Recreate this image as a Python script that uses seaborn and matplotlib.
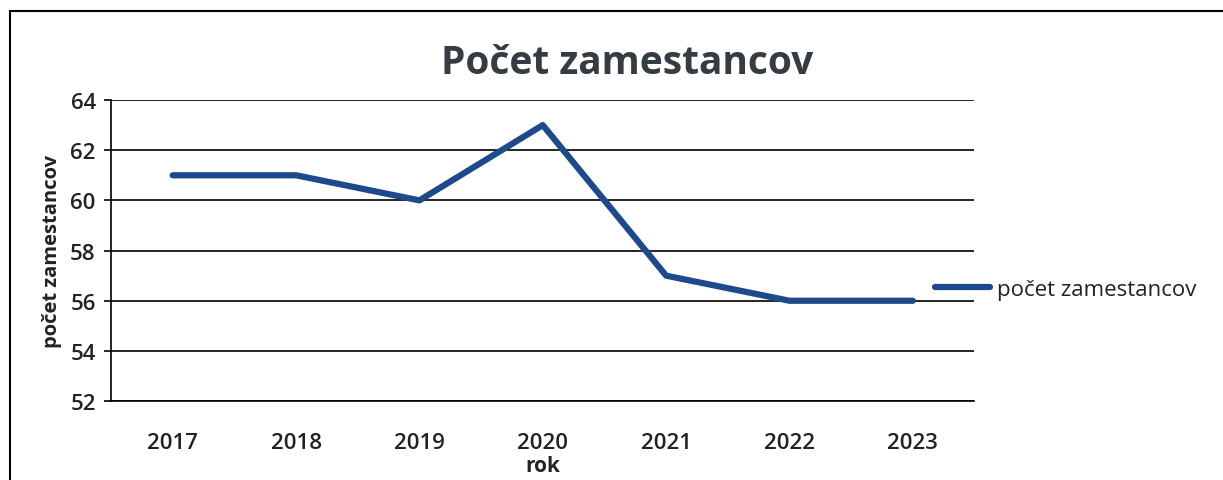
import numpy as np
import pandas as pd
import matplotlib
matplotlib.use("Agg")
import matplotlib.pyplot as plt
import seaborn as sns
from matplotlib.patches import Rectangle

roky = ["2017", "2018", "2019", "2020", "2021", "2022", "2023"]
pocet = [61, 61, 60, 63, 57, 56, 56]
y_ticks = [52, 54, 56, 58, 60, 62, 64]

df = pd.DataFrame({"rok": roky, "počet zamestancov": pocet})

sns.set_style("white")
plt.rcParams['font.family'] = ['Open Sans', 'DejaVu Sans']

fig = plt.figure(figsize=(12.23, 4.81), dpi=100)
ax = fig.add_axes([0.0908, 0.164, 0.706, 0.626])

line_color = "#1d4a8c"
sns.lineplot(data=df, x="rok", y="počet zamestancov", ax=ax, color=line_color,
             linewidth=4.5, sort=False, label="počet zamestancov")

ax.set_xlim(-0.5, len(roky) - 0.5)
ax.set_ylim(52, 64)
ax.set_yticks(y_ticks)
ax.set_yticklabels([str(v) for v in y_ticks], fontsize=16, fontweight="semibold", color="#222222")
ax.set_xticks(np.arange(len(roky)))
ax.set_xticklabels(roky, fontsize=16, fontweight="semibold", color="#222222")
ax.set_xticks(np.arange(len(roky) + 1) - 0.5, minor=True)
ax.tick_params(axis="x", which="major", length=0, pad=22)
ax.tick_params(axis="x", which="minor", length=5, width=1.2, color="black", direction="out")
ax.tick_params(axis="y", length=5, width=1.2, color="black", direction="out", left=True, pad=6)

ax.grid(axis="y", color="black", linewidth=1.2)
ax.set_axisbelow(True)
for s in ["top", "right"]:
    ax.spines[s].set_visible(False)
for s in ["left", "bottom"]:
    ax.spines[s].set_color("black")
    ax.spines[s].set_linewidth(1.2)

ax.set_xlabel("rok", fontsize=15, fontweight="bold", color="#222222", labelpad=2)
ax.set_ylabel("počet zamestancov", fontsize=14.5, fontweight="bold", color="#222222", labelpad=6)

fig.text(0.513, 0.868, "Počet zamestancov", ha="center", va="center",
         fontsize=28, fontweight="bold", color="#363d42")

leg = ax.legend(loc="center left", bbox_to_anchor=(0.954, 0.372), frameon=False,
                fontsize=16, handlelength=2.5, handletextpad=0.3,
                borderaxespad=0, borderpad=0)
for t in leg.get_texts():
    t.set_color("#222222")

# outer chart frame
fig.patches.append(Rectangle((10 / 1223, -0.01), 1.0, 1 - 12 / 481 + 0.01,
                             transform=fig.transFigure, fill=False,
                             edgecolor="black", linewidth=1.5))

fig.savefig("out.png", dpi=100)
